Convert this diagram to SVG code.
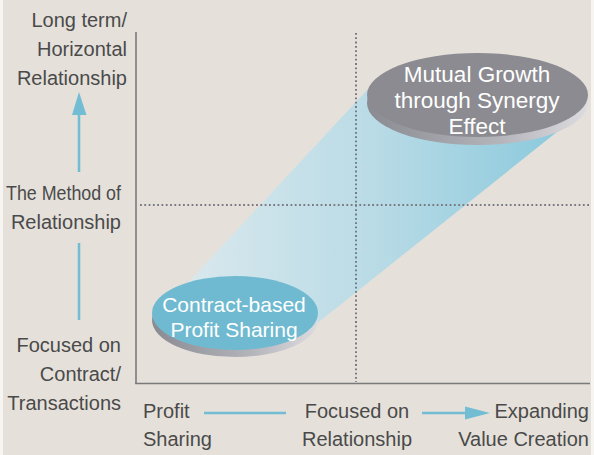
<svg xmlns="http://www.w3.org/2000/svg" width="594" height="455" viewBox="0 0 594 455">
  <defs>
    <linearGradient id="beamGrad" gradientUnits="userSpaceOnUse" x1="185" y1="0" x2="565" y2="0">
      <stop offset="0" stop-color="#d9e8ed"/>
      <stop offset="0.5" stop-color="#b9dbe6"/>
      <stop offset="1" stop-color="#8ac9dc"/>
    </linearGradient>
    <linearGradient id="rimGrad" x1="0" y1="0" x2="1" y2="0">
      <stop offset="0" stop-color="#8a8a92"/>
      <stop offset="0.6" stop-color="#b4b4bb"/>
      <stop offset="1" stop-color="#dcdce0"/>
    </linearGradient>
  </defs>
  <style>
    .lbl { font-family: "Liberation Sans", Arial, sans-serif; font-size: 20px; fill: #4a4a4a; }
    .end { text-anchor: end; }
    .mid { text-anchor: middle; }
    .node-text { font-family: "Liberation Sans", Arial, sans-serif; fill: #ffffff; text-anchor: middle; }
    .axis { stroke: #7a7a7a; stroke-width: 1.6; fill: none; }
    .dots { stroke: #7a7a82; stroke-width: 2; stroke-dasharray: 1.8 2.5; fill: none; }
    .cyan { stroke: #72bdd3; stroke-width: 2.6; fill: none; }
    .cyan-fill { fill: #72bdd3; }
  </style>

  <!-- background -->
  <rect x="0" y="0" width="594" height="455" fill="#e5e1da"/>
  <rect x="0" y="0" width="3" height="455" fill="#f6f5f2"/>
  <rect x="591" y="0" width="3" height="455" fill="#f6f5f2"/>

  <!-- light beam linking the two stages -->
  <polygon points="185,286 368,89 470,100 565,125.6 300,337 235,313" fill="url(#beamGrad)"/>

  <!-- axes and quadrant guides -->
  <g id="connectors">
    <line class="axis" x1="136" y1="32" x2="136" y2="384"/>
    <line class="axis" x1="135.2" y1="383.5" x2="590" y2="383.5"/>
    <line class="dots" x1="356" y1="33" x2="356" y2="382"/>
    <line class="dots" x1="140" y1="205" x2="590" y2="205"/>

    <!-- vertical arrow -->
    <polygon class="cyan-fill" points="79,92 72,115 86.5,115"/>
    <line class="cyan" x1="79" y1="114" x2="79" y2="172"/>
    <line class="cyan" x1="79" y1="243" x2="79" y2="320"/>

    <!-- horizontal arrow -->
    <line class="cyan" x1="204" y1="413" x2="286" y2="413"/>
    <line class="cyan" x1="422" y1="413" x2="467" y2="413"/>
    <polygon class="cyan-fill" points="490,413 465,406.5 465,419.5"/>
  </g>

  <!-- stage 1 -->
  <g id="node-contract">
    <ellipse cx="235" cy="320" rx="83" ry="37" fill="url(#rimGrad)"/>
    <ellipse cx="235" cy="313" rx="83" ry="37" fill="#6fbad0"/>
    <text class="node-text" x="234" y="312" font-size="21">Contract-based</text>
    <text class="node-text" x="234" y="337" font-size="21">Profit Sharing</text>
  </g>

  <!-- stage 2 -->
  <g id="node-mutual">
    <ellipse cx="477.5" cy="103" rx="110.5" ry="42" fill="url(#rimGrad)"/>
    <ellipse cx="477.5" cy="95" rx="110.5" ry="42" fill="#8b8b91"/>
    <text class="node-text" x="477" y="82" font-size="22.5">Mutual Growth</text>
    <text class="node-text" x="477" y="108" font-size="22.5">through Synergy</text>
    <text class="node-text" x="477" y="134" font-size="22.5">Effect</text>
  </g>

  <!-- vertical axis labels -->
  <g id="label-top">
    <text class="lbl end" x="127" y="27">Long term/</text>
    <text class="lbl end" x="127" y="56">Horizontal</text>
    <text class="lbl end" x="127" y="85">Relationship</text>
  </g>
  <g id="label-method">
    <text class="lbl end" x="121" y="200" textLength="115" lengthAdjust="spacingAndGlyphs">The Method of</text>
    <text class="lbl end" x="121" y="229">Relationship</text>
  </g>
  <g id="label-bottom">
    <text class="lbl end" x="121" y="352">Focused on</text>
    <text class="lbl end" x="121" y="381">Contract/</text>
    <text class="lbl end" x="121" y="410">Transactions</text>
  </g>

  <!-- horizontal axis labels -->
  <g id="label-profit">
    <text class="lbl" x="143" y="418">Profit</text>
    <text class="lbl" x="143" y="446">Sharing</text>
  </g>
  <g id="label-relationship">
    <text class="lbl mid" x="357" y="418">Focused on</text>
    <text class="lbl mid" x="357" y="446">Relationship</text>
  </g>
  <g id="label-value">
    <text class="lbl end" x="589" y="418">Expanding</text>
    <text class="lbl end" x="589" y="446">Value Creation</text>
  </g>
</svg>
